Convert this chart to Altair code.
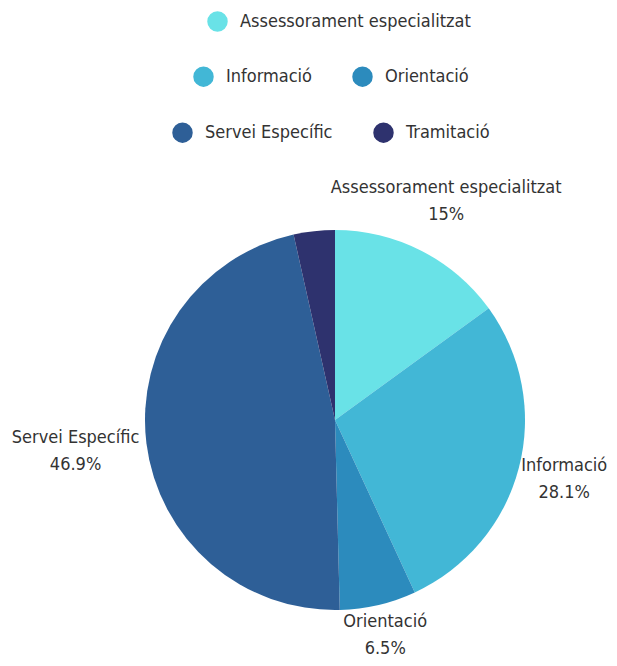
import altair as alt
import pandas as pd

categories = ["Assessorament especialitzat", "Informació", "Orientació", "Servei Específic", "Tramitació"]
values = [15.0, 28.1, 6.5, 46.9, 3.5]
pct_labels = ["15%", "28.1%", "6.5%", "46.9%", ""]
colors = ["#69e2e7", "#42b7d6", "#2c8bbd", "#2e5f97", "#2e326e"]
legend_rows = [["Assessorament especialitzat"], ["Informació", "Orientació"], ["Servei Específic", "Tramitació"]]

df = pd.DataFrame({
    "cat": categories,
    "value": values,
    "pct": pct_labels,
    "order": list(range(len(categories))),
})

FONT = "Liberation Sans Narrow, DejaVu Sans Condensed, Roboto Condensed, sans-serif"
CX, CY, R = 327, 412, 190
LH = 27

base = alt.Chart(df).transform_window(
    end="sum(value)", sort=[alt.SortField("order")], frame=[None, 0]
).transform_calculate(
    start="datum.end - datum.value",
    mid="(datum.end - datum.value / 2) / 100 * 2 * PI",
    label="datum.pct == '' ? '' : datum.cat + '\\n' + datum.pct",
)

theta_scale = alt.Scale(domain=[0, 100])

legend_pos = [(199, 3), (185, 58), (164, 114)]
layers = []
for i, row in enumerate(legend_rows):
    lx, ly = legend_pos[i]
    cols = [colors[categories.index(c)] for c in row]
    layer = base.transform_filter(
        alt.FieldOneOfPredicate(field="cat", oneOf=row)
    ).mark_arc(outerRadius=R).encode(
        x=alt.value(CX), y=alt.value(CY),
        theta=alt.Theta("start:Q", scale=theta_scale),
        theta2="end:Q",
        color=alt.Color(
            "cat:N",
            scale=alt.Scale(domain=row, range=cols),
            legend=alt.Legend(
                title=None, orient="none", legendX=lx, legendY=ly,
                direction="horizontal", symbolType="circle", symbolSize=420,
                symbolStrokeWidth=0, labelFont=FONT, labelFontSize=18,
                labelColor="#333333", labelOffset=12, columnPadding=40,
                labelLimit=400,
            ),
        ),
    )
    layers.append(layer)

# label radius depends on the label size so that text clears the pie edge
labels = base.transform_calculate(
    hw="length(datum.cat) * 4.0",
    s="sin(datum.mid)",
    c="cos(datum.mid)",
).transform_calculate(
    rr=f"{R} + 8 + datum.hw * datum.s * datum.s + (datum.c > 0 ? 31 : 22) * datum.c * datum.c",
).transform_calculate(
    lx=f"{CX} + datum.rr * datum.s",
    ly=f"{CY} - datum.rr * datum.c - {LH / 2}",
).mark_text(
    font=FONT, fontSize=18, color="#333333", lineBreak="\n",
    align="center", baseline="middle", lineHeight=LH,
).encode(
    x=alt.X("lx:Q", scale=None, axis=None),
    y=alt.Y("ly:Q", scale=None, axis=None),
    text="label:N",
)

chart = alt.layer(*layers, labels).resolve_scale(color="independent").properties(
    width=601, height=650, autosize=alt.AutoSizeParams(type="none"), padding=0,
).configure_view(stroke=None)

chart.save("out.html", embed_options={"renderer": "svg", "actions": False})
